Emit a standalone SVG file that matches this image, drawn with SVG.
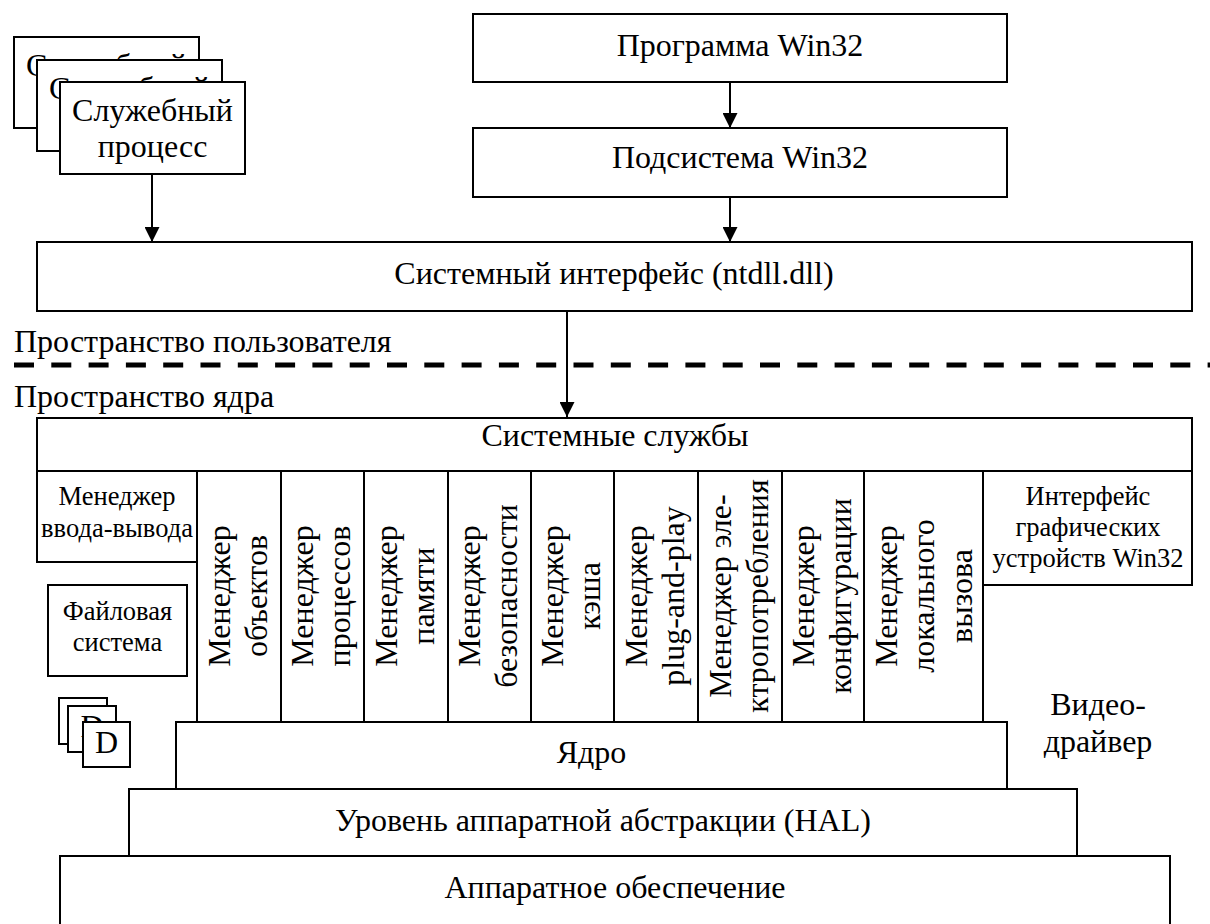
<svg xmlns="http://www.w3.org/2000/svg" width="1210" height="924" viewBox="0 0 1210 924" font-family="'Liberation Serif', 'Times New Roman', serif">
<defs>
<style>
rect{fill:#fff;stroke:#000;stroke-width:2}
text{fill:#000;font-size:32px}
.c{text-anchor:middle}
.s{font-size:26.5px}
.con{stroke:#000;stroke-width:2;fill:none}
</style>
<marker id="ah" viewBox="0 0 10 10" refX="10" refY="5" markerWidth="15" markerHeight="15" markerUnits="userSpaceOnUse" orient="auto">
<path d="M0,0 L10,5 L0,10 Z" fill="#000"/>
</marker>
</defs>
<rect x="-5" y="-5" width="1220" height="934" style="fill:#fff;stroke:none"/>

<g id="service1">
<rect x="14" y="37" width="185" height="91"/>
<text class="c" x="106.5" y="76">Служебный</text>
<text class="c" x="106.5" y="112">процесс</text>
</g>
<g id="service2">
<rect x="37" y="60" width="185" height="91"/>
<text class="c" x="129.5" y="99">Служебный</text>
<text class="c" x="129.5" y="135">процесс</text>
</g>
<g id="service3">
<rect x="60" y="82" width="185" height="92"/>
<text class="c" x="152.5" y="121">Служебный</text>
<text class="c" x="152.5" y="157">процесс</text>
</g>

<g id="win32prog">
<rect x="473" y="14" width="534" height="68"/>
<text class="c" x="740" y="56">Программа Win32</text>
</g>
<g id="win32sub">
<rect x="473" y="128" width="534" height="69"/>
<text class="c" x="740" y="168">Подсистема Win32</text>
</g>
<g id="ntdll">
<rect x="37" y="242" width="1155" height="69"/>
<text class="c" x="614" y="284">Системный интерфейс (ntdll.dll)</text>
</g>

<g id="user-space">
<text x="14" y="352">Пространство пользователя</text>
</g>
<line x1="14" y1="365" x2="1210" y2="365" style="stroke:#000;stroke-width:5;stroke-dasharray:20 17.3"/>
<g id="kernel-space">
<text x="14" y="407">Пространство ядра</text>
</g>

<g id="sysservices">
<rect x="37" y="418" width="1155" height="53"/>
<text class="c" x="615" y="446">Системные службы</text>
</g>

<g id="io-manager">
<rect x="37" y="471" width="160" height="91"/>
<text class="c s" x="117" y="505">Менеджер</text>
<text class="c s" x="117" y="537">ввода-вывода</text>
</g>
<g id="filesystem">
<rect x="48" y="585" width="139" height="91"/>
<text class="c s" x="117.5" y="620">Файловая</text>
<text class="c s" x="117.5" y="651">система</text>
</g>
<g id="drivers">
<rect x="59" y="698" width="48" height="46"/>
<text class="c" x="83" y="729">D</text>
<rect x="68" y="706" width="48" height="46"/>
<text class="c" x="92" y="737">D</text>
<rect x="83" y="722" width="47" height="45"/>
<text class="c" x="106.5" y="753">D</text>
</g>

<g id="object-manager">
<rect x="197" y="471" width="84" height="251"/>
<text class="c" transform="translate(230,596) rotate(-90)">Менеджер</text>
<text class="c" transform="translate(267,596) rotate(-90)">объектов</text>
</g>
<g id="process-manager">
<rect x="281" y="471" width="83" height="251"/>
<text class="c" transform="translate(313,596) rotate(-90)">Менеджер</text>
<text class="c" transform="translate(350,596) rotate(-90)">процессов</text>
</g>
<g id="memory-manager">
<rect x="364" y="471" width="84" height="251"/>
<text class="c" transform="translate(397,596) rotate(-90)">Менеджер</text>
<text class="c" transform="translate(434,596) rotate(-90)">памяти</text>
</g>
<g id="security-manager">
<rect x="448" y="471" width="83" height="251"/>
<text class="c" transform="translate(480,596) rotate(-90)">Менеджер</text>
<text class="c" transform="translate(517,596) rotate(-90)">безопасности</text>
</g>
<g id="cache-manager">
<rect x="531" y="471" width="83" height="251"/>
<text class="c" transform="translate(563,596) rotate(-90)">Менеджер</text>
<text class="c" transform="translate(600,596) rotate(-90)">кэша</text>
</g>
<g id="pnp-manager">
<rect x="614" y="471" width="84" height="251"/>
<text class="c" transform="translate(647,596) rotate(-90)">Менеджер</text>
<text class="c" transform="translate(684,596) rotate(-90)">plug-and-play</text>
</g>
<g id="power-manager">
<rect x="698" y="471" width="84" height="251"/>
<text class="c" transform="translate(731,596) rotate(-90)">Менеджер эле-</text>
<text class="c" transform="translate(768,596) rotate(-90)">ктропотребления</text>
</g>
<g id="config-manager">
<rect x="782" y="471" width="82" height="251"/>
<text class="c" transform="translate(814,596) rotate(-90)">Менеджер</text>
<text class="c" transform="translate(851,596) rotate(-90)">конфигурации</text>
</g>
<g id="lpc-manager">
<rect x="864" y="471" width="119" height="251"/>
<text class="c" transform="translate(897,596) rotate(-90)">Менеджер</text>
<text class="c" transform="translate(934,596) rotate(-90)">локального</text>
<text class="c" transform="translate(972,596) rotate(-90)">вызова</text>
</g>
<g id="gdi">
<rect x="983" y="471" width="209" height="114"/>
<text class="c s" x="1088" y="505">Интерфейс</text>
<text class="c s" x="1088" y="536">графических</text>
<text class="c s" x="1088" y="567">устройств Win32</text>
</g>
<g id="video-driver">
<text class="c" x="1098" y="715">Видео-</text>
<text class="c" x="1098" y="752">драйвер</text>
</g>

<g id="kernel">
<rect x="176" y="722" width="831" height="67"/>
<text class="c" x="591.5" y="763">Ядро</text>
</g>
<g id="hal">
<rect x="129" y="789" width="948" height="67"/>
<text class="c" x="603" y="831">Уровень аппаратной абстракции (HAL)</text>
</g>
<g id="hardware">
<rect x="60" y="856" width="1110" height="80"/>
<text class="c" x="615" y="898">Аппаратное обеспечение</text>
</g>

<g id="connectors">
<line class="con" x1="730" y1="82" x2="730" y2="128" marker-end="url(#ah)"/>
<line class="con" x1="730" y1="197" x2="730" y2="242" marker-end="url(#ah)"/>
<line class="con" x1="152" y1="174" x2="152" y2="242" marker-end="url(#ah)"/>
<line class="con" x1="567" y1="311" x2="567" y2="417" marker-end="url(#ah)"/>
</g>
</svg>
